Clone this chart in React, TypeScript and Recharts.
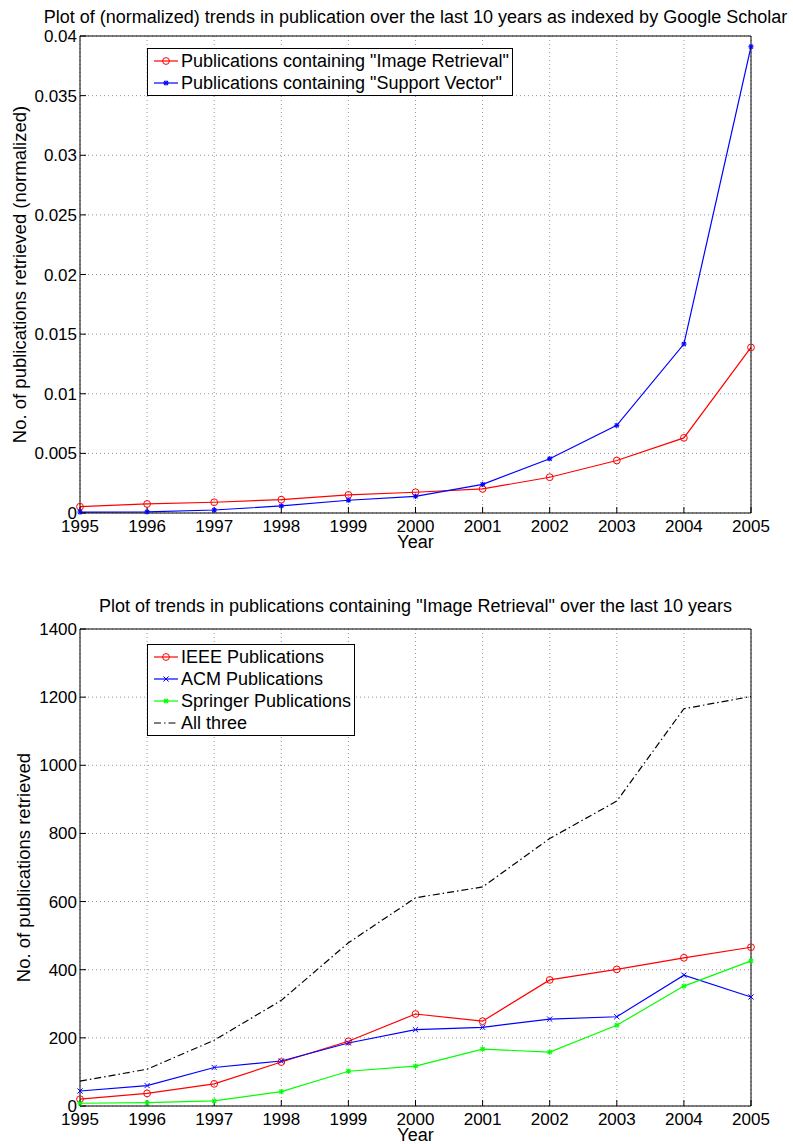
import { CartesianGrid, Label, Legend, Line, LineChart, XAxis, YAxis } from "recharts";

const FONT = '"Liberation Sans", Arial, Helvetica, sans-serif';

// shared x categories
const years = [1995, 1996, 1997, 1998, 1999, 2000, 2001, 2002, 2003, 2004, 2005];

// top chart: normalized share of publications
const imageRetrieval = [0.00053, 0.00076, 0.0009, 0.00112, 0.00152, 0.00174, 0.00202, 0.003, 0.0044, 0.0063, 0.01388];
const supportVector = [0.00008, 0.0001, 0.00025, 0.00059, 0.00107, 0.0014, 0.0024, 0.00455, 0.00735, 0.01417, 0.0391];
const topYTicks = [0, 0.005, 0.01, 0.015, 0.02, 0.025, 0.03, 0.035, 0.04];

// bottom chart: raw counts
const ieee = [20, 37, 65, 129, 190, 270, 249, 370, 401, 435, 466];
const acm = [44, 60, 113, 132, 185, 224, 231, 255, 262, 384, 320];
const springer = [8, 10, 15, 42, 102, 117, 167, 158, 237, 352, 426];
const allThree = [73, 108, 193, 310, 479, 611, 643, 785, 895, 1166, 1202];
const bottomYTicks = [0, 200, 400, 600, 800, 1000, 1200, 1400];

const topData = years.map((year, i) => ({ year, ir: imageRetrieval[i], sv: supportVector[i] }));
const bottomData = years.map((year, i) => ({
  year,
  ieee: ieee[i],
  acm: acm[i],
  springer: springer[i],
  all: allThree[i],
}));

type MarkerKind = "circle" | "star" | "x" | "none";

type SeriesDef = {
  key: string;
  name: string;
  color: string;
  marker: MarkerKind;
  dash?: string;
};

const topSeries: SeriesDef[] = [
  { key: "ir", name: 'Publications containing "Image Retrieval"', color: "#ff0000", marker: "circle" },
  { key: "sv", name: 'Publications containing "Support Vector"', color: "#0000ff", marker: "star" },
];

const bottomSeries: SeriesDef[] = [
  { key: "ieee", name: "IEEE Publications", color: "#ff0000", marker: "circle" },
  { key: "acm", name: "ACM Publications", color: "#0000ff", marker: "x" },
  { key: "springer", name: "Springer Publications", color: "#00ff00", marker: "star" },
  { key: "all", name: "All three", color: "#000000", marker: "none", dash: "7 3 1.5 3" },
];

function MarkerShape({ kind, color, cx, cy }: { kind: MarkerKind; color: string; cx: number; cy: number }) {
  const s = 2.6;
  if (kind === "circle") {
    return <circle cx={cx} cy={cy} r={3.4} fill="none" stroke={color} strokeWidth={1} />;
  }
  if (kind === "x") {
    return (
      <g stroke={color} strokeWidth={1}>
        <line x1={cx - s} y1={cy - s} x2={cx + s} y2={cy + s} />
        <line x1={cx - s} y1={cy + s} x2={cx + s} y2={cy - s} />
      </g>
    );
  }
  if (kind === "star") {
    return (
      <g stroke={color} strokeWidth={1.1}>
        <line x1={cx - s} y1={cy} x2={cx + s} y2={cy} />
        <line x1={cx} y1={cy - s} x2={cx} y2={cy + s} />
        <line x1={cx - 2} y1={cy - 2} x2={cx + 2} y2={cy + 2} />
        <line x1={cx - 2} y1={cy + 2} x2={cx + 2} y2={cy - 2} />
      </g>
    );
  }
  return <g />;
}

const dotFor = (def: SeriesDef) => {
  if (def.marker === "none") return false;
  return (p: { cx?: number; cy?: number; index?: number }) => (
    <MarkerShape key={`${def.key}-${p.index}`} kind={def.marker} color={def.color} cx={p.cx ?? 0} cy={p.cy ?? 0} />
  );
};

function LegendBox({ items }: { items: SeriesDef[] }) {
  return (
    <div
      style={{
        border: "1.4px solid #000",
        background: "#fff",
        padding: "1px 3px 1px 5px",
        fontFamily: FONT,
        fontSize: 18,
        lineHeight: "22px",
        color: "#000",
        whiteSpace: "nowrap",
      }}
    >
      {items.map((it) => (
        <div key={it.key} style={{ display: "flex", alignItems: "center", height: 22 }}>
          <svg width={28} height={22} style={{ display: "block" }}>
            <line x1={1} x2={25} y1={11} y2={11} stroke={it.color} strokeWidth={1.2} strokeDasharray={it.dash} />
            <MarkerShape kind={it.marker} color={it.color} cx={13} cy={11} />
          </svg>
          <span>{it.name}</span>
        </div>
      ))}
    </div>
  );
}

const tickStyle = { fill: "#000", fontSize: 17, fontFamily: FONT };

const formatTop = (v: number) => (v === 0 ? "0" : String(Number(v.toFixed(3))));

type ChartProps = {
  data: Array<Record<string, number>>;
  series: SeriesDef[];
  yTicks: number[];
  yFormat: (v: number) => string;
  title: string;
  titleY: number;
  yLabel: string;
  yLabelX: number;
  height: number;
  marginTop: number;
  xAxisHeight: number;
  marginBottom: number;
  legendTop: number;
};

function MatlabChart(props: ChartProps) {
  const yMax = props.yTicks[props.yTicks.length - 1];
  return (
    <LineChart
      width={793}
      height={props.height}
      data={props.data}
      margin={{ top: props.marginTop, right: 41, bottom: props.marginBottom, left: 10 }}
    >
      <CartesianGrid stroke="#8a8a8a" strokeDasharray="1 3" strokeWidth={0.9} />
      <XAxis
        dataKey="year"
        type="number"
        domain={[1995, 2005]}
        ticks={years}
        interval={0}
        height={props.xAxisHeight}
        stroke="#000"
        tickSize={-6}
        tickMargin={13}
        tick={tickStyle}
      >
        <Label
          content={(lp: any) => {
            const vb = lp.viewBox || {};
            return (
              <text x={vb.x + vb.width / 2} y={vb.y + 35} textAnchor="middle" fontSize={18} fontFamily={FONT} fill="#000">
                Year
              </text>
            );
          }}
        />
      </XAxis>
      <XAxis
        xAxisId="top"
        orientation="top"
        type="number"
        domain={[1995, 2005]}
        ticks={years}
        interval={0}
        height={1}
        stroke="#000"
        tickSize={-6}
        tick={false}
      >
        <Label
          content={(lp: any) => {
            const vb = lp.viewBox || {};
            return (
              <text x={vb.x + vb.width / 2} y={props.titleY} textAnchor="middle" fontSize={18} fontFamily={FONT} fill="#000">
                {props.title}
              </text>
            );
          }}
        />
      </XAxis>
      <YAxis
        type="number"
        domain={[0, yMax]}
        ticks={props.yTicks}
        interval={0}
        width={70}
        stroke="#000"
        tickSize={-6}
        tickMargin={9}
        tick={tickStyle}
        tickFormatter={props.yFormat}
      >
        <Label
          content={(lp: any) => {
            const vb = lp.viewBox || {};
            const cy = vb.y + vb.height / 2;
            return (
              <text
                x={props.yLabelX}
                y={cy}
                transform={`rotate(-90 ${props.yLabelX} ${cy})`}
                textAnchor="middle"
                dominantBaseline="central"
                fontSize={18.5}
                fontFamily={FONT}
                fill="#000"
              >
                {props.yLabel}
              </text>
            );
          }}
        />
      </YAxis>
      <YAxis
        yAxisId="right"
        orientation="right"
        type="number"
        domain={[0, yMax]}
        ticks={props.yTicks}
        interval={0}
        width={1}
        stroke="#000"
        tickSize={-6}
        tick={false}
      />
      <Legend
        layout="horizontal"
        verticalAlign="middle"
        align="center"
        wrapperStyle={{ left: 147, top: props.legendTop, width: "auto", height: "auto" }}
        content={() => <LegendBox items={props.series} />}
      />
      {props.series.map((s) => (
        <Line
          key={s.key}
          type="linear"
          dataKey={s.key}
          name={s.name}
          stroke={s.color}
          strokeWidth={1.2}
          strokeDasharray={s.dash}
          dot={dotFor(s)}
          activeDot={false}
          isAnimationActive={false}
        />
      ))}
    </LineChart>
  );
}

export default function App() {
  return (
    <div style={{ position: "absolute", left: 0, top: 0, width: 793, height: 1144, background: "#fff" }}>
      <div style={{ position: "absolute", left: 0, top: 0 }}>
        <MatlabChart
          data={topData}
          series={topSeries}
          yTicks={topYTicks}
          yFormat={formatTop}
          title="Plot of (normalized) trends in publication over the last 10 years as indexed by Google Scholar"
          titleY={23}
          yLabel="No. of publications retrieved (normalized)"
          yLabelX={19}
          height={560}
          marginTop={35}
          xAxisHeight={40}
          marginBottom={7}
          legendTop={48}
        />
      </div>
      <div style={{ position: "absolute", left: 0, top: 590 }}>
        <MatlabChart
          data={bottomData}
          series={bottomSeries}
          yTicks={bottomYTicks}
          yFormat={(v: number) => String(v)}
          title={'Plot of trends in publications containing "Image Retrieval" over the last 10 years'}
          titleY={22}
          yLabel="No. of publications retrieved"
          yLabelX={23}
          height={554}
          marginTop={38}
          xAxisHeight={28}
          marginBottom={10}
          legendTop={54}
        />
      </div>
    </div>
  );
}
